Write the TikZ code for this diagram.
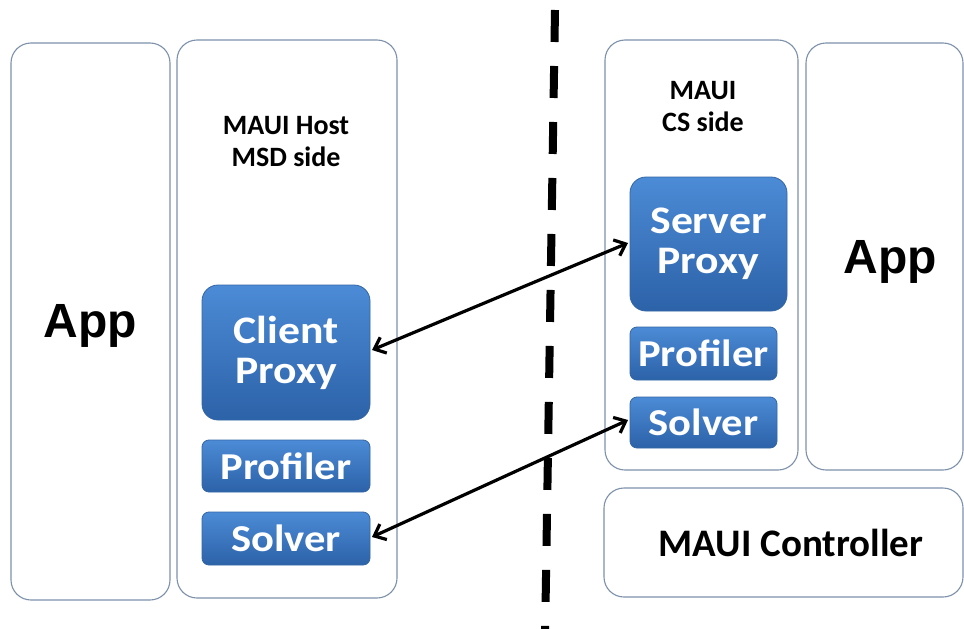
\documentclass[tikz,border=0pt]{standalone}
\usepackage{fontspec}
\setmainfont{Carlito}
\newfontfamily\calb[FakeStretch=1.12]{Carlito}
\newfontfamily\arialb{Liberation Sans}
\usetikzlibrary{arrows.meta}
\definecolor{frame}{HTML}{7D91AB}
\definecolor{btop}{HTML}{4C8BD6}
\definecolor{bbot}{HTML}{2C62A8}
\definecolor{bedge}{HTML}{3466A6}
\tikzset{
  panel/.style={draw=frame, line width=1.1pt, rounded corners=20pt, inner sep=0pt, outer sep=0pt, fill=white},
  bluebig/.style={draw=bedge, line width=0.8pt, rounded corners=16pt, top color=btop, bottom color=bbot, inner sep=0pt, outer sep=0pt, text=white, font=\calb\bfseries\fontsize{39}{40}\selectfont, align=center},
  bluesmall/.style={draw=bedge, line width=0.8pt, rounded corners=7pt, top color=btop, bottom color=bbot, inner sep=0pt, outer sep=0pt, text=white, font=\calb\bfseries\fontsize{38}{40}\selectfont},
  title/.style={font=\bfseries\fontsize{28}{32}\selectfont, align=center},
  apptext/.style={font=\arialb\bfseries\fontsize{48}{50}\selectfont},
  divider/.style={line width=8pt, dash pattern=on 32pt off 24pt}
}
\begin{document}
\begin{tikzpicture}[x=1pt,y=-1pt]
\useasboundingbox[fill=white] (0,0) rectangle (964,629);
% divider
\coordinate (dtop) at (555,10);
\coordinate (dbot) at (545,640);
\draw[divider] (dtop) -- (dbot);
% panels
\node[panel, minimum width=159pt, minimum height=557pt] (appL) at (90.5,321.5) {};
\node[apptext] (appLtxt) at (90,326) {App};
\node[panel, minimum width=220pt, minimum height=558pt] (host) at (287,319) {};
\node[title] (hostT) at (286,142) {MAUI Host\\MSD side};
\node[panel, minimum width=193pt, minimum height=430pt] (cs) at (701.5,255) {};
\node[title] (csT) at (703,107) {MAUI\\CS side};
\node[panel, minimum width=157pt, minimum height=427pt] (appR) at (884.5,256.5) {};
\node[apptext] (appRtxt) at (890,262) {App};
\node[panel, minimum width=359pt, minimum height=109pt] (ctrl) at (783.5,542.5) {};
\node[font=\bfseries\fontsize{39}{40}\selectfont] (ctrlT) at (791,543) {MAUI Controller};
% blue boxes left
\node[bluebig, minimum width=168pt, minimum height=135pt] (cp) at (286,352.5) {Client\\Proxy};
\node[bluesmall, minimum width=168pt, minimum height=52pt] (profL) at (286,466) {Profiler};
\node[bluesmall, minimum width=168pt, minimum height=53pt] (solL) at (286,538.5) {Solver};
% blue boxes right
\node[bluebig, minimum width=157pt, minimum height=134pt] (sp) at (708.5,244) {Server\\Proxy};
\node[bluesmall, minimum width=147pt, minimum height=53pt] (profR) at (703.5,353.5) {Profiler};
\node[bluesmall, minimum width=147pt, minimum height=51pt] (solR) at (703.5,422.5) {Solver};
% links
\coordinate (a1) at (372,350);
\coordinate (b1) at (628,243);
\coordinate (a2) at (372,537);
\coordinate (b2) at (628,420);
\draw[line width=3.2pt, {Straight Barb[length=10pt,width=17pt]}-{Straight Barb[length=10pt,width=17pt]}] (a1) -- (b1);
\draw[line width=3.2pt, {Straight Barb[length=10pt,width=17pt]}-{Straight Barb[length=10pt,width=17pt]}] (a2) -- (b2);
\end{tikzpicture}
\end{document}
